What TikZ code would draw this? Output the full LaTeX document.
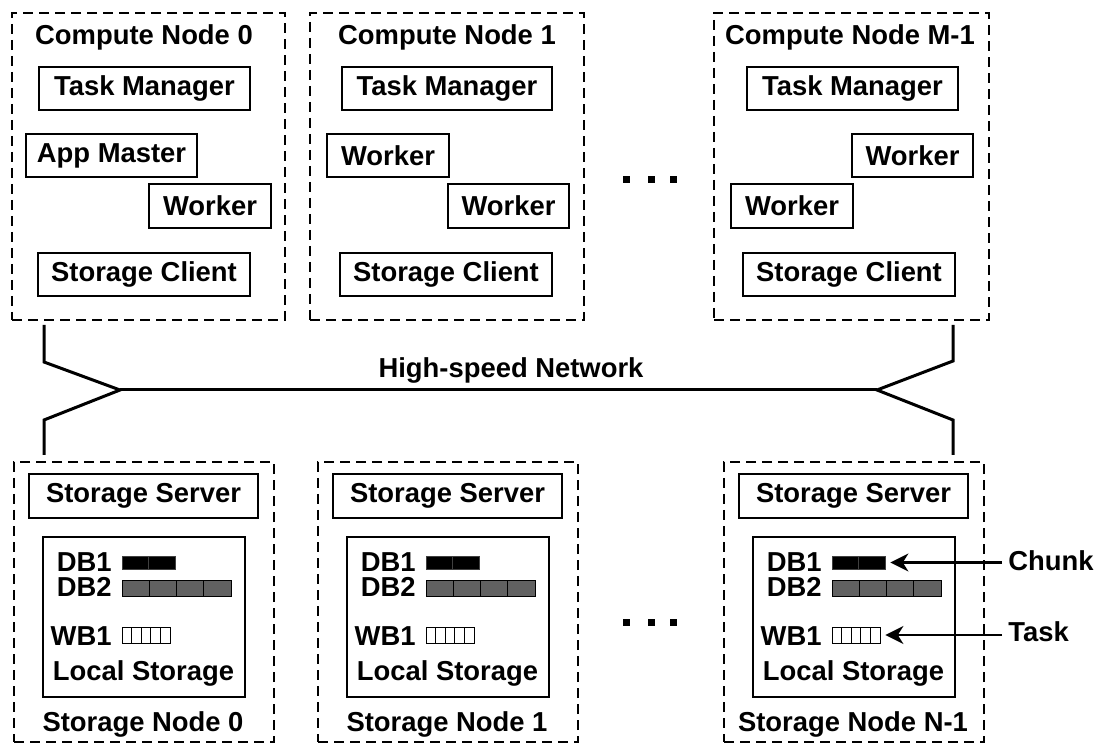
\documentclass[tikz,border=0pt]{standalone}
\usepackage{fontspec}
\setmainfont{Liberation Sans}
\usetikzlibrary{arrows.meta}
\begin{document}
\begin{tikzpicture}[x=0.5pt,y=-0.5pt,
  every node/.style={font=\bfseries\fontsize{13.7}{16}\selectfont, inner sep=0pt},
  nodebox/.style={draw, line width=0.9pt, dash pattern=on 5pt off 3pt},
  box/.style={draw, line width=1.2pt},
  lbl/.style={anchor=base},
  net/.style={line width=1.5pt, line join=miter},
  arr/.style={line width=1.1pt, -{Stealth[length=9pt,width=9pt,inset=2.8pt]}},
  dotsq/.style={fill=black, minimum size=3.5pt},
  cellA/.style={fill=black, draw=black!75, line width=0.4pt, minimum width=13.25pt, minimum height=6.5pt},
  cellB/.style={fill=black!62, draw=black, line width=0.4pt, minimum width=13.6pt, minimum height=8pt},
  cellC/.style={fill=white, draw=black, line width=0.4pt, minimum width=4.8pt, minimum height=8pt},
]
\useasboundingbox (0,0) rectangle (1104,743);

% ---------- compute nodes ----------
\node[nodebox, minimum width=136.5pt, minimum height=153.5pt] (cn0) at (148.5,166.5) {};
\node[nodebox, minimum width=137pt, minimum height=153.5pt] (cn1) at (447,166.5) {};
\node[nodebox, minimum width=137.5pt, minimum height=153.5pt] (cnM) at (851.5,166.5) {};

\node[lbl] (cn0t) at (144,45) {Compute Node 0};
\node[lbl] (cn1t) at (447,45) {Compute Node 1};
\node[lbl] (cnMt) at (850,45) {Compute Node M-1};

\node[box, minimum width=105.5pt, minimum height=21.5pt] (tm0) at (144.5,88.5) {Task Manager};
\node[box, minimum width=105pt, minimum height=21.5pt] (tm1) at (447,88.5) {Task Manager};
\node[box, minimum width=105.5pt, minimum height=21.5pt] (tmM) at (852.5,88.5) {Task Manager};

\node[box, minimum width=85.5pt, minimum height=21.5pt] (am0) at (111.5,155.5) {App Master};
\node[box, minimum width=61pt, minimum height=22pt] (w0) at (210,206) {Worker};

\node[box, minimum width=61pt, minimum height=21.5pt] (w1a) at (388,155.5) {Worker};
\node[box, minimum width=60.5pt, minimum height=22pt] (w1b) at (508.5,206) {Worker};

\node[box, minimum width=60.5pt, minimum height=21.5pt] (wMa) at (912.5,155.5) {Worker};
\node[box, minimum width=61pt, minimum height=22pt] (wMb) at (792,206) {Worker};

\node[box, minimum width=106pt, minimum height=21.5pt] (sc0) at (144,274.5) {Storage Client};
\node[box, minimum width=106pt, minimum height=21.5pt] (sc1) at (446,274.5) {Storage Client};
\node[box, minimum width=106pt, minimum height=21.5pt] (scM) at (849,274.5) {Storage Client};

\node[dotsq] (cd1) at (626.5,180) {};
\node[dotsq] (cd2) at (651.5,180) {};
\node[dotsq] (cd3) at (673.5,180) {};

% ---------- network ----------
\coordinate (nlt) at (44,325);
\coordinate (nlb) at (44,455);
\coordinate (nrt) at (953,325);
\coordinate (nrb) at (953,455);
\coordinate (nl) at (120,390);
\coordinate (nr) at (877,390);
\draw[net] (nlt) -- (44,362) -- (nl) -- (44,420) -- (nlb);
\draw[net] (nrt) -- (953,361) -- (nr) -- (953,420) -- (nrb);
\draw[net] (nl) -- (nr);
\node[lbl] (netl) at (511,378) {High-speed Network};

% ---------- storage nodes ----------
\foreach \i/\o/\t in {0/14/Storage Node 0, 1/318/Storage Node 1, 2/724/Storage Node N-1}{
  \node[nodebox, minimum width=130pt, minimum height=140pt] (sn\i) at (\o+130,602) {};
  \node[box, minimum width=114.5pt, minimum height=22pt] (ss\i) at (\o+129.5,496) {Storage Server};
  \node[box, minimum width=101pt, minimum height=80pt] (ls\i) at (\o+130,617) {};
  \node[anchor=base east] (db1l\i) at (\o+98,571.5) {DB1};
  \node[anchor=base east] (db2l\i) at (\o+98,596.5) {DB2};
  \node[anchor=base east] (wb1l\i) at (\o+98,645) {WB1};
  \node[cellA] (s\i-db1-0) at (\o+121.25,562.5) {};
  \node[cellA] (s\i-db1-1) at (\o+147.75,562.5) {};
  \node[cellB] (s\i-db2-0) at (\o+121.6,588) {};
  \node[cellB] (s\i-db2-1) at (\o+148.9,588) {};
  \node[cellB] (s\i-db2-2) at (\o+176.1,588) {};
  \node[cellB] (s\i-db2-3) at (\o+203.4,588) {};
  \node[cellC] (s\i-wb1-0) at (\o+112.8,635) {};
  \node[cellC] (s\i-wb1-1) at (\o+122.4,635) {};
  \node[cellC] (s\i-wb1-2) at (\o+132,635) {};
  \node[cellC] (s\i-wb1-3) at (\o+141.6,635) {};
  \node[cellC] (s\i-wb1-4) at (\o+151.2,635) {};
  \node[lbl] (lsl\i) at (\o+129.5,680) {Local Storage};
  \node[lbl] (snt\i) at (\o+129,731) {\t};
}

\node[dotsq] (sd1) at (626.5,622) {};
\node[dotsq] (sd2) at (651.5,622) {};
\node[dotsq] (sd3) at (673.5,622) {};

% ---------- legend ----------
\node[anchor=base west] (chunk) at (1008,570) {Chunk};
\node[anchor=base west] (task) at (1008,641) {Task};
\draw[arr] ([xshift=-3pt]chunk.west |- s2-db1-1.east) -- ([xshift=2.5pt]s2-db1-1.east);
\draw[arr] ([xshift=-3pt]task.west |- s2-wb1-4.east) -- ([xshift=2.5pt]s2-wb1-4.east);
\end{tikzpicture}
\end{document}
